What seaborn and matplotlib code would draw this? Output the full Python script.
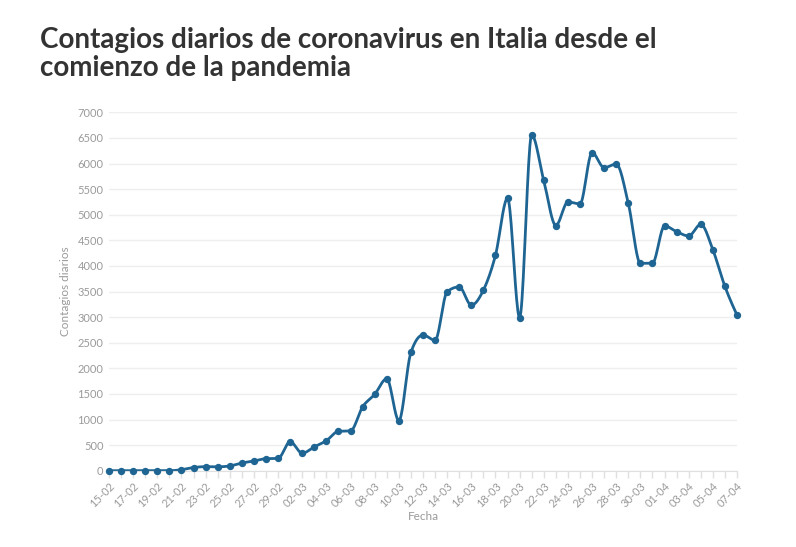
import numpy as np
import pandas as pd
import matplotlib
matplotlib.use("Agg")
import matplotlib.pyplot as plt
import seaborn as sns

# Fechas (15-02 a 07-04) y contagios diarios
fechas = (
    [f"{d:02d}-02" for d in range(15, 30)]
    + [f"{d:02d}-03" for d in range(1, 32)]
    + [f"{d:02d}-04" for d in range(1, 8)]
)
contagios = [
    0, 0, 0, 0, 0, 0, 20, 62, 79, 76, 93, 150, 190, 235, 240,
    566, 342, 466, 587, 769, 778, 1247, 1492, 1797, 977, 2313, 2651, 2547,
    3497, 3590, 3233, 3526, 4207, 5322, 2990, 6557, 5668, 4789, 5249, 5210,
    6213, 5918, 5990, 5223, 4050, 4053, 4782, 4668, 4585, 4811, 4316, 3599,
    3039,
]
yticks = list(range(0, 7001, 500))

LINE = "#1f6593"
GRAY = "#9a9a9a"


def monotone_curve(x, y, n=20):
    # suavizado tipo "monotone X" (solo para el trazo, los puntos son los datos)
    x = np.asarray(x, float)
    y = np.asarray(y, float)
    h = np.diff(x)
    s = np.diff(y) / h
    m = np.zeros_like(y)
    for i in range(1, len(y) - 1):
        p = (s[i - 1] * h[i] + s[i] * h[i - 1]) / (h[i - 1] + h[i])
        m[i] = (np.sign(s[i - 1]) + np.sign(s[i])) * min(abs(s[i - 1]), abs(s[i]), 0.5 * abs(p))
    m[0] = (3 * s[0] - m[1]) / 2
    m[-1] = (3 * s[-1] - m[-2]) / 2
    xs, ys = [], []
    for i in range(len(x) - 1):
        t = np.linspace(0, 1, n, endpoint=False)
        h00 = 2 * t**3 - 3 * t**2 + 1
        h10 = t**3 - 2 * t**2 + t
        h01 = -2 * t**3 + 3 * t**2
        h11 = t**3 - t**2
        xs.append(x[i] + t * h[i])
        ys.append(h00 * y[i] + h10 * h[i] * m[i] + h01 * y[i + 1] + h11 * h[i] * m[i + 1])
    xs.append([x[-1]])
    ys.append([y[-1]])
    return np.concatenate(xs), np.concatenate(ys)


df = pd.DataFrame({"fecha": fechas, "contagios": contagios})
df["pos"] = np.arange(len(df))
cx, cy = monotone_curve(df["pos"], df["contagios"])
curve = pd.DataFrame({"pos": cx, "contagios": cy})

sns.set_style("white")
plt.rcParams["font.family"] = ["Lato", "DejaVu Sans"]

fig = plt.figure(figsize=(7.96, 5.47), dpi=100)
ax = fig.add_axes([109 / 796, 1 - 470.7 / 547, (737 - 109) / 796, (470.7 - 112.3) / 547])

sns.lineplot(data=curve, x="pos", y="contagios", ax=ax, color=LINE, lw=2, sort=False)
sns.scatterplot(data=df, x="pos", y="contagios", ax=ax, color=LINE, s=28,
                edgecolor=LINE, linewidth=0, zorder=3, clip_on=False)

ax.set_xlim(0, len(df) - 1)
ax.set_ylim(0, 7000)
ax.set_yticks(yticks)
ax.set_yticklabels([str(v) for v in yticks], color=GRAY, fontsize=8)
ax.set_xticks(df["pos"])
ax.set_xticklabels([f if i % 2 == 0 else "" for i, f in enumerate(fechas)],
                   rotation=45, ha="right", rotation_mode="anchor", color=GRAY, fontsize=8)
ax.tick_params(axis="x", length=5, color="#e0e0e0", width=1, pad=2, bottom=True)
ax.tick_params(axis="y", length=0, pad=4)
ax.grid(axis="y", color="#eeeeee", lw=1)
ax.set_axisbelow(True)
for side in ["top", "right", "left"]:
    ax.spines[side].set_visible(False)
ax.spines["bottom"].set_color("#e0e0e0")

ax.set_xlabel("Fecha", color=GRAY, fontsize=8.5, labelpad=1)
ax.set_ylabel("Contagios diarios", color=GRAY, fontsize=8.5, labelpad=5)

fig.text(40 / 796, 1 - 27 / 547,
         "Contagios diarios de coronavirus en Italia desde el\ncomienzo de la pandemia",
         fontsize=20, fontweight="bold", color="#333333", va="top", ha="left",
         linespacing=1.1)

fig.savefig("out.png", dpi=100)
